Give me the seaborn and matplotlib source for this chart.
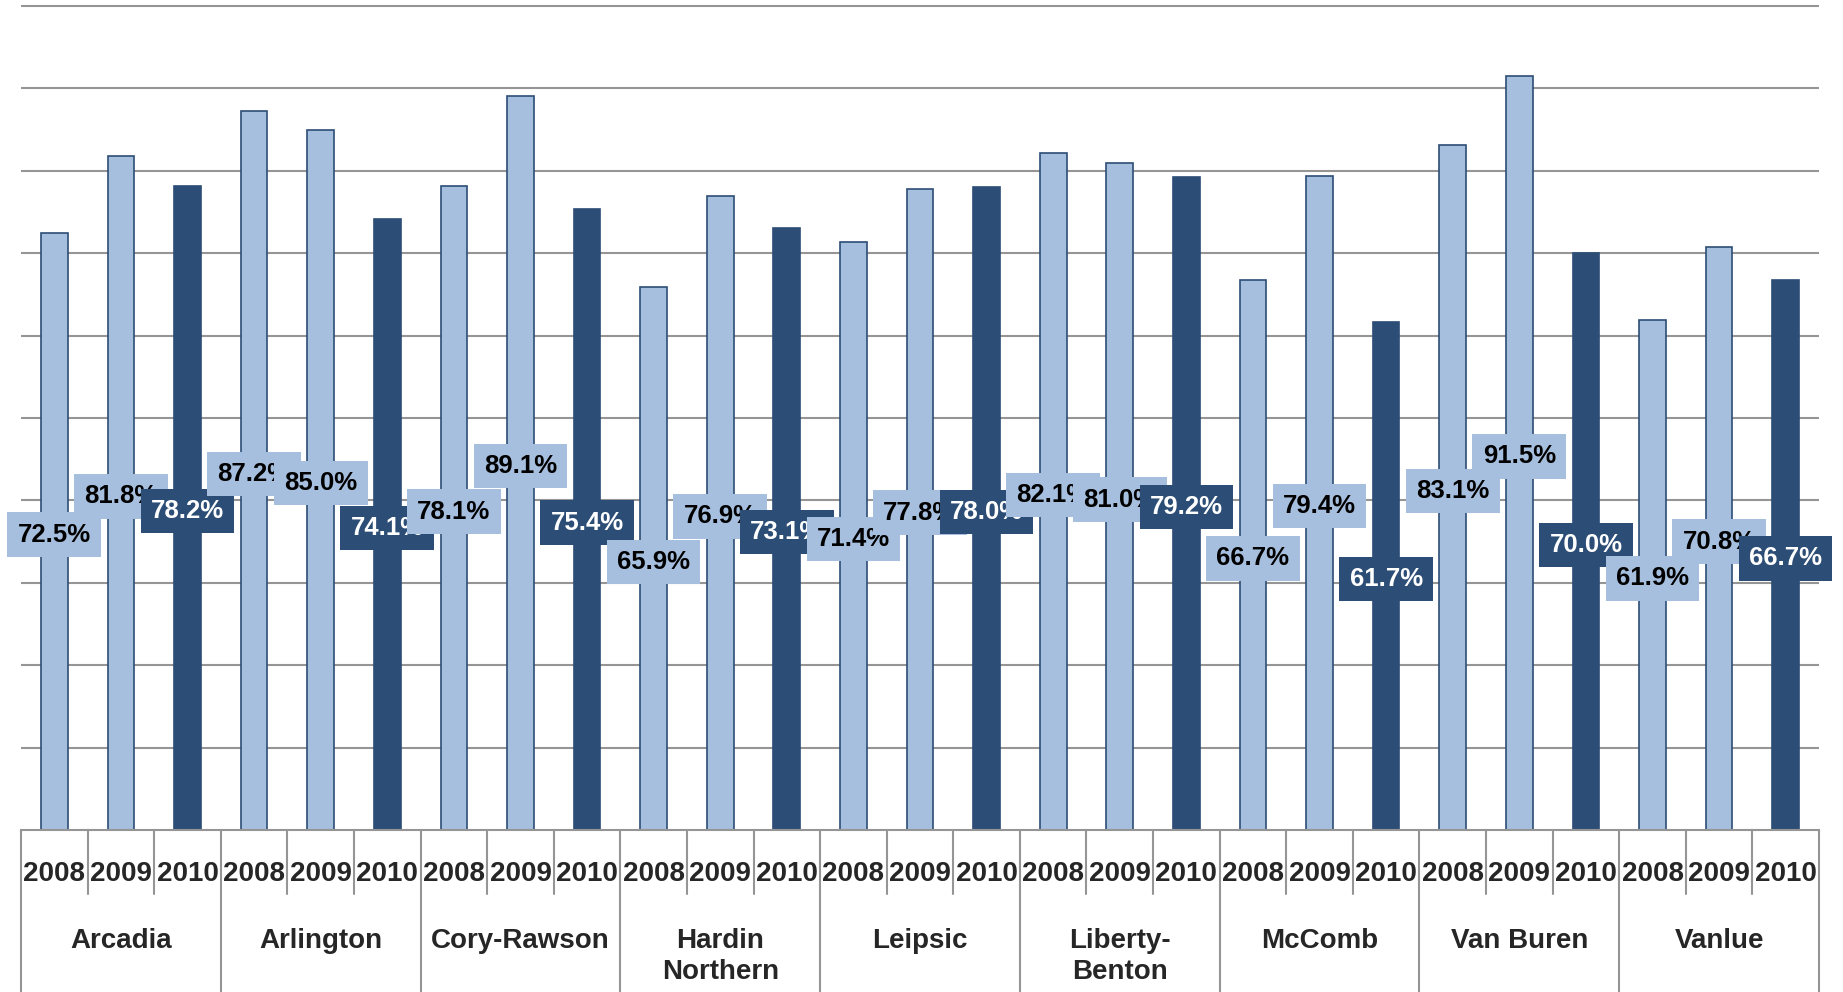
import pandas as pd
import matplotlib
matplotlib.use('Agg')
import matplotlib.pyplot as plt
import seaborn as sns

districts = ['Arcadia', 'Arlington', 'Cory-Rawson', 'Hardin\nNorthern', 'Leipsic',
             'Liberty-\nBenton', 'McComb', 'Van Buren', 'Vanlue']
years = ['2008', '2009', '2010']
rate_2008 = [72.5, 87.2, 78.1, 65.9, 71.4, 82.1, 66.7, 83.1, 61.9]
rate_2009 = [81.8, 85.0, 89.1, 76.9, 77.8, 81.0, 79.4, 91.5, 70.8]
rate_2010 = [78.2, 74.1, 75.4, 73.1, 78.0, 79.2, 61.7, 70.0, 66.7]

LIGHT = '#A7BFDE'
DARK = '#2C4D75'
GRID = '#959595'

# long table, one row per bar (district x year)
rows = []
for i, d in enumerate(districts):
    for yr, vals in zip(years, [rate_2008, rate_2009, rate_2010]):
        rows.append({'district': d, 'year': yr, 'key': f'{d}|{yr}', 'rate': vals[i] / 100})
df = pd.DataFrame(rows)

sns.set_style('white')
plt.rcParams['font.family'] = ['Liberation Sans', 'DejaVu Sans']

W, H = 1843, 992
fig = plt.figure(figsize=(W / 100, H / 100), dpi=100)
left, right, y0, y1 = 21, 1819, 830, 6   # pixel positions of plot area
unit = y0 - y1                           # pixels for 100%
ymax = 1.008
ax = fig.add_axes([left / W, (H - y0) / H, (right - left) / W, unit * ymax / H])

sns.barplot(data=df, x='key', y='rate', hue='year', order=list(df['key']), hue_order=years,
            palette={'2008': LIGHT, '2009': LIGHT, '2010': DARK}, dodge=False, width=0.4,
            edgecolor=DARK, linewidth=1.2, saturation=1, legend=False, ax=ax, zorder=2)

ax.set_xlim(-0.5, len(df) - 0.5)
ax.set_ylim(0, ymax)
ax.set_yticks([i / 10 for i in range(1, 11)])
ax.yaxis.grid(True, color=GRID, lw=1.5)
ax.set_axisbelow(True)
ax.tick_params(axis='both', length=0, labelleft=False, labelbottom=False)
ax.set_xlabel('')
ax.set_ylabel('')
for s in ['left', 'right', 'top']:
    ax.spines[s].set_visible(False)
ax.spines['bottom'].set_color(GRID)
ax.spines['bottom'].set_linewidth(1.5)

# data labels, centred in each bar (nudged a little down like Excel does)
for i, (v, yr) in enumerate(zip(df['rate'], df['year'])):
    dark = yr == '2010'
    ax.text(i, v / 2 - 0.004, f'{v * 100:.1f}%', ha='center', va='center', fontsize=18.5,
            fontweight='bold', color='white' if dark else 'black', zorder=3,
            bbox=dict(boxstyle='square,pad=0.4', fc=DARK if dark else LIGHT, ec='none'))

# two-level category axis
tr = ax.get_xaxis_transform()


def ay(px):
    return (y0 - px) / (unit * ymax)


for b in range(len(df) + 1):
    x = b - 0.5
    bottom = ay(H) if b % 3 == 0 else ay(894)
    ax.plot([x, x], [0, bottom], transform=tr, color=GRID, lw=1.5, clip_on=False)

for i, yr in enumerate(df['year']):
    ax.text(i, ay(874), yr, transform=tr, ha='center', va='center', fontsize=20,
            fontweight='bold', clip_on=False)

for g, d in enumerate(districts):
    ax.text(3 * g + 1, ay(928), d, transform=tr, ha='center', va='top', fontsize=20,
            fontweight='bold', linespacing=1.25, clip_on=False)

fig.savefig('out.png', dpi=100)
